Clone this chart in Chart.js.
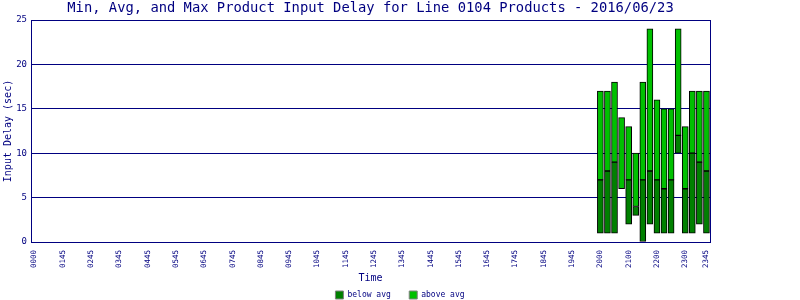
<!DOCTYPE html>
<html>
<head>
<meta charset="utf-8">
<script src="https://cdn.jsdelivr.net/npm/chart.js@4/dist/chart.umd.min.js"></script>
<style>
  body { margin: 0; background: #fff; }
</style>
</head>
<body>
<canvas id="myChart" width="800" height="300"></canvas>
<script>
// 96 fifteen-minute slots, only some get a label on the axis
var slotCount = 96;
var tickPos  = [0, 4, 8, 12, 16, 20, 24, 28, 32, 36, 40, 44, 48, 52, 56, 60, 64, 68, 72, 76, 80, 84, 88, 92, 95];
var tickText = ['0000', '0145', '0245', '0345', '0445', '0545', '0645', '0745', '0845', '0945',
                '1045', '1145', '1245', '1345', '1445', '1545', '1645', '1745', '1845', '1945',
                '2000', '2100', '2200', '2300', '2345'];

// data only from 2000 to 2345
var dataStart = 80;
var minDelay = [1, 1, 1, 6, 2, 3, 0, 2, 1, 1, 1, 10, 1, 1, 2, 1];
var avgDelay = [7, 8, 9, 6, 7, 4, 7, 8, 7, 6, 7, 12, 6, 10, 9, 8];
var maxDelay = [17, 17, 18, 14, 13, 10, 18, 24, 16, 15, 15, 24, 13, 17, 17, 17];

var yTicks = [0, 5, 10, 15, 20, 25];

var navy = '#000080';
var mono = 'DejaVu Sans Mono';

var categories = [];
var below = [];
var above = [];
for (var i = 0; i < slotCount; i++) {
    var k = tickPos.indexOf(i);
    categories.push(k >= 0 ? tickText[k] : '');
    var j = i - dataStart;
    if (j >= 0 && j < minDelay.length) {
        below.push([minDelay[j], avgDelay[j]]);
        above.push([avgDelay[j], maxDelay[j]]);
    } else {
        below.push(null);
        above.push(null);
    }
}

var ctx = document.getElementById('myChart').getContext('2d');

var chart = new Chart(ctx, {
    type: 'bar',
    data: {
        labels: categories,
        datasets: [{
            label: 'below avg',
            data: below,
            backgroundColor: '#008000',
            borderColor: '#000000',
            borderWidth: 1,
            borderSkipped: false,
            barThickness: 6,
            grouped: false
        }, {
            label: 'above avg',
            data: above,
            backgroundColor: '#00c000',
            borderColor: '#000000',
            borderWidth: 1,
            borderSkipped: false,
            barThickness: 6,
            grouped: false
        }]
    },
    options: {
        responsive: false,
        animation: false,
        layout: { padding: { left: 0, right: 0, top: 0, bottom: -9 } },
        scales: {
            x: {
                grid: { display: false },
                border: { color: navy, width: 1 },
                ticks: {
                    autoSkip: false,
                    minRotation: 90,
                    maxRotation: 90,
                    padding: 0,
                    color: navy,
                    font: { family: mono, size: 7.5 },
                    callback: function(value) { return this.getLabelForValue(value); }
                },
                title: {
                    display: true,
                    text: 'Time',
                    color: navy,
                    font: { family: mono, size: 10 },
                    padding: { top: 0, bottom: 3 }
                },
                afterFit: function(scale) { scale.height = 45; }
            },
            y: {
                min: 0,
                max: 25,
                afterBuildTicks: function(scale) {
                    scale.ticks = yTicks.map(function(v) { return { value: v }; });
                },
                grid: { color: navy, lineWidth: 1, drawTicks: false },
                border: { color: navy, width: 1 },
                ticks: {
                    padding: 4,
                    color: navy,
                    font: { family: mono, size: 9 }
                },
                title: {
                    display: true,
                    text: 'Input Delay (sec)',
                    color: navy,
                    font: { family: mono, size: 10 },
                    padding: { top: 2, bottom: 0 }
                },
                afterFit: function(scale) { scale.width = 31; }
            },
            // empty right axis, only gives the right border and the margin
            yRight: {
                position: 'right',
                min: 0,
                max: 25,
                grid: { display: false },
                border: { color: navy, width: 1 },
                ticks: { display: false },
                afterFit: function(scale) { scale.width = 90; }
            }
        },
        plugins: {
            title: {
                display: true,
                fullSize: false,
                text: 'Min, Avg, and Max Product Input Delay for Line 0104 Products - 2016/06/23',
                color: navy,
                font: { family: mono, size: 13.8, weight: 'normal' },
                padding: { top: 0.5, bottom: 2.94 }
            },
            legend: {
                position: 'bottom',
                labels: {
                    boxWidth: 8,
                    boxHeight: 8,
                    padding: 4,
                    color: navy,
                    font: { family: mono, size: 8 },
                    generateLabels: function(chart) {
                        var items = Chart.defaults.plugins.legend.labels.generateLabels(chart);
                        items.forEach(function(it, idx) {
                            it.strokeStyle = '#808080';
                            it.lineWidth = 1;
                            if (idx === 0) it.text = it.text + '   ';
                        });
                        return items;
                    }
                }
            },
            tooltip: { enabled: false }
        }
    }
});
</script>
</body>
</html>
